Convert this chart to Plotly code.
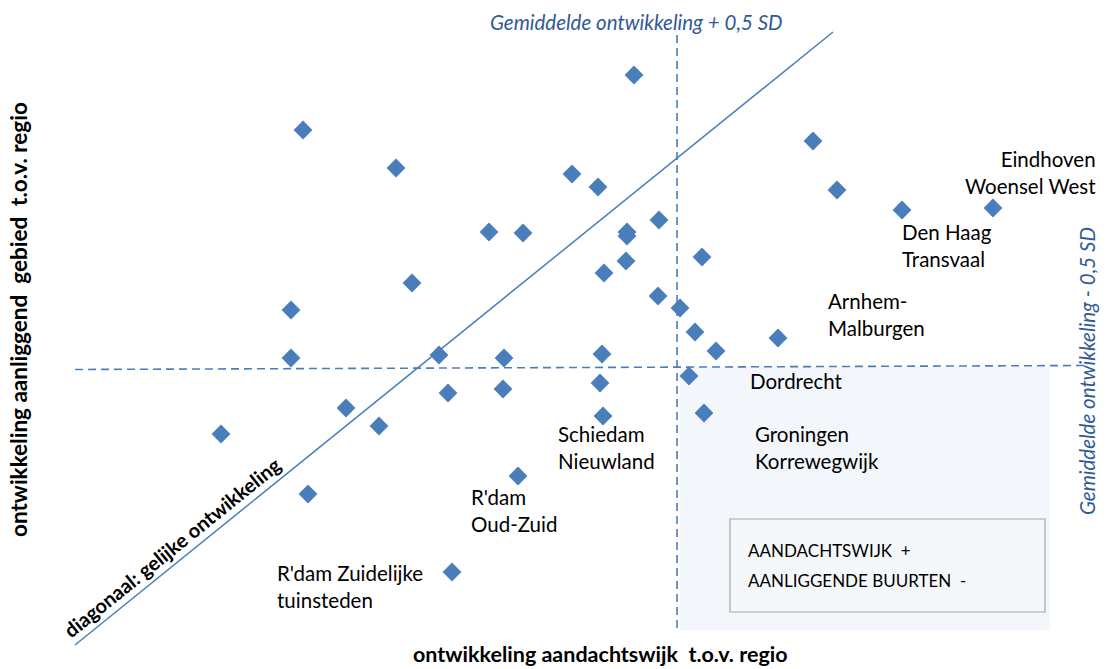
import plotly.graph_objects as go

# Neighbourhood development scores (x: focus area vs region, y: adjacent area vs region)
wijk_x = [-0.43, -3.74, -2.81, -1.05, -0.79, 1.36, 1.60, 2.25, 3.16, -1.88,
          -1.54, -0.50, -0.50, -0.18, 0.25, -0.73, -0.51, -2.65, -3.86, -0.19,
          0.03, 0.18, 1.01, 0.39, -3.86, -2.38, -1.73, -0.75, 0.12, -0.77,
          -2.29, -1.74, -3.31, -2.98, -0.74, 0.27, -4.56, -1.59, -3.69, -2.25]
wijk_y = [2.93, 2.38, 2.00, 1.94, 1.81, 2.27, 1.78, 1.58, 1.60, 1.36,
          1.35, 1.36, 1.32, 1.48, 1.11, 0.95, 1.07, 0.85, 0.58, 0.72,
          0.60, 0.36, 0.30, 0.17, 0.10, 0.13, 0.10, 0.14, -0.08, -0.15,
          -0.25, -0.21, -0.40, -0.58, -0.48, -0.45, -0.66, -1.08, -1.26, -2.04]

# Reference lines
diag_x = [-6.02, 1.56]
diag_y = [-2.77, 3.36]
hline_x = [-6.02, 4.08]
hline_y = [-0.015, 0.025]
vline_x = [0.0, 0.0]
vline_y = [3.33, -2.62]

BLUE = "#4A7EBB"
TXT_BLUE = "#2F5A96"
FONT = "Lato"

fig = go.Figure()

# shaded quadrant: focus area +, adjacent area -
fig.add_shape(type="rect", x0=0.03, x1=3.73, y0=0.01, y1=-2.62,
              fillcolor="#F3F6FA", line=dict(width=0), layer="below")
# legend-style box
fig.add_shape(type="rect", x0=0.53, x1=3.68, y0=-1.51, y1=-2.44,
              fillcolor="#F5F8FB", line=dict(color="#A6A6A6", width=1.2), layer="below")

fig.add_trace(go.Scatter(x=diag_x, y=diag_y, mode="lines",
                         line=dict(color=BLUE, width=1.5), hoverinfo="skip"))
fig.add_trace(go.Scatter(x=hline_x, y=hline_y, mode="lines",
                         line=dict(color=BLUE, width=1.6, dash="8px,5px"), hoverinfo="skip"))
fig.add_trace(go.Scatter(x=vline_x, y=vline_y, mode="lines",
                         line=dict(color=BLUE, width=1.6, dash="8px,5px"), hoverinfo="skip"))
fig.add_trace(go.Scatter(x=wijk_x, y=wijk_y, mode="markers",
                         marker=dict(symbol="diamond", size=14.5, color=BLUE)))

ann = []

def label(text, x, y, xanchor="left", yanchor="middle", size=20.5, color="black",
          bold=False, italic=False, angle=0, align="left"):
    t = text
    if bold:
        t = "<b>" + t + "</b>"
    if italic:
        t = "<i>" + t + "</i>"
    ann.append(dict(text=t, x=x, y=y, xref="x", yref="y", showarrow=False,
                    xanchor=xanchor, yanchor=yanchor, textangle=angle, align=align,
                    borderpad=0,
                    font=dict(family=FONT, size=size, color=color)))

# area labels
label("Eindhoven<br>Woensel West", 4.20, 1.96, xanchor="right", align="right")
label("Den Haag<br>Transvaal", 2.24, 1.23)
label("Arnhem-<br>Malburgen", 1.50, 0.54)
label("Dordrecht", 0.72, -0.13)
label("Groningen<br>Korrewegwijk", 0.77, -0.79)
label("Schiedam<br>Nieuwland", -1.20, -0.79)
label("R'dam<br>Oud-Zuid", -2.07, -1.42)
label("R'dam Zuidelijke<br>tuinsteden", -4.01, -2.18)

label("AANDACHTSWIJK  +", 0.70, -1.82, size=17)
label("AANLIGGENDE BUURTEN  -", 0.70, -2.12, size=17)

label("Gemiddelde ontwikkeling + 0,5 SD", -0.41, 3.46, xanchor="center",
      size=20.5, color=TXT_BLUE, italic=True)
label("Gemiddelde ontwikkeling - 0,5 SD", 4.10, -0.03, xanchor="center",
      size=20.5, color=TXT_BLUE, italic=True, angle=-90)
label("diagonaal: gelijke ontwikkeling", -5.05, -1.79, xanchor="center",
      size=20, bold=True, angle=-39)
label("ontwikkeling aanliggend  gebied  t.o.v. regio", -6.59, 0.48, xanchor="center",
      size=22.5, bold=True, angle=-90)
label("ontwikkeling aandachtswijk  t.o.v. regio", -0.77, -2.86, xanchor="center",
      size=21.5, bold=True)

fig.update_layout(
    width=1107, height=669,
    margin=dict(l=0, r=0, t=0, b=0),
    paper_bgcolor="white", plot_bgcolor="white",
    showlegend=False,
    annotations=ann,
    xaxis=dict(range=[-6.77, 4.30], visible=False, fixedrange=True),
    yaxis=dict(range=[-3.01, 3.68], visible=False, fixedrange=True),
)

fig.write_html("out.html")
